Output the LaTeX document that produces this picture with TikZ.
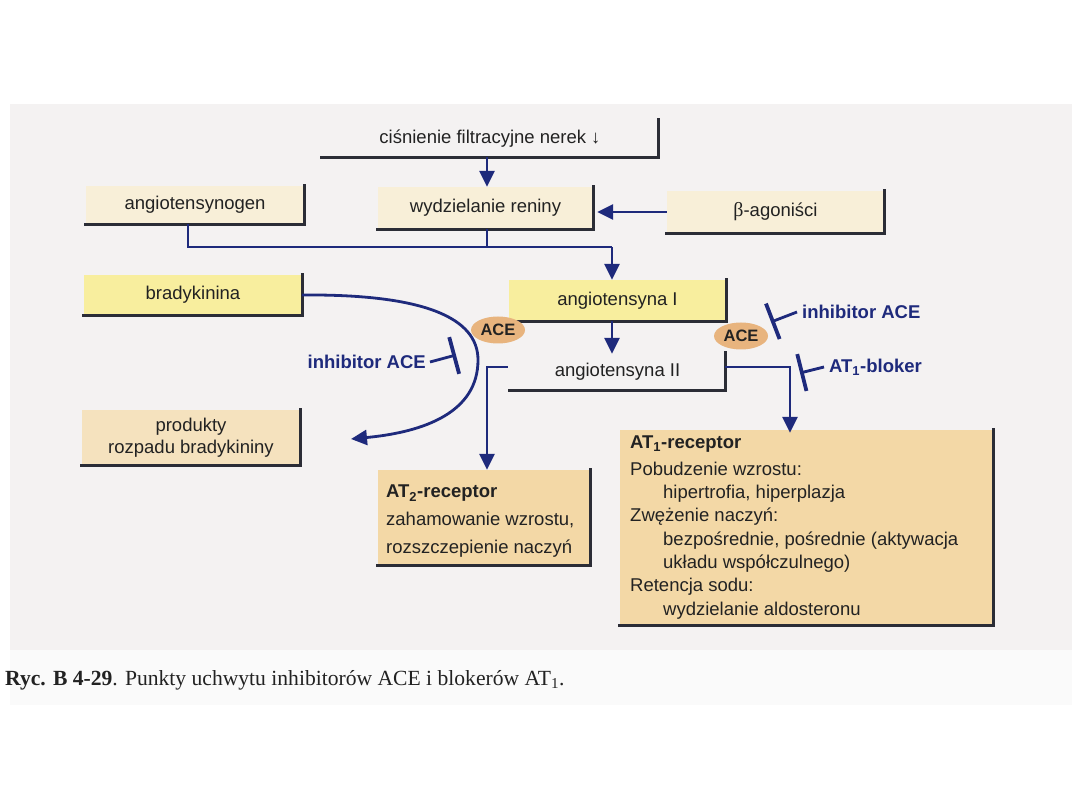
\documentclass[tikz,border=0pt]{standalone}
\usepackage{fontspec}
\setmainfont{Liberation Sans}
\newfontfamily\seriffont{Liberation Serif}
\usetikzlibrary{arrows.meta,shapes.geometric}
\definecolor{navy}{HTML}{1E2A7C}
\definecolor{cream}{HTML}{F8EFD8}
\definecolor{yell}{HTML}{F8EE9E}
\definecolor{tan}{HTML}{F3D8A6}
\definecolor{tanlight}{HTML}{F5E2BE}
\definecolor{bg}{HTML}{F4F2F2}
\definecolor{capbg}{HTML}{FAFAFA}
\definecolor{shade}{HTML}{2B2D36}
\definecolor{acefill}{HTML}{E8B47E}
\definecolor{txt}{HTML}{222222}
\tikzset{
  box/.style={inner sep=0pt, text=txt, font=\fontsize{18.5}{22}\selectfont, align=center},
  shadowline/.style={draw=shade, line width=3.2pt, line cap=rect},
  conn/.style={draw=navy, line width=2.8pt},
  arr/.style={conn, -{Triangle[width=15pt,length=16pt]}},
  inh/.style={conn, -{Bar[width=38pt,line width=3.8pt]}},
  ace/.style={ellipse, fill=acefill, minimum width=54pt, minimum height=27pt, inner sep=0pt,
    font=\bfseries\fontsize{16.5}{18}\selectfont, text=txt},
  lbl/.style={text=navy, font=\bfseries\fontsize{18.5}{22}\selectfont, inner sep=0pt},
  bodytext/.style={inner sep=0pt, text=txt, align=left, font=\fontsize{18.5}{23.3}\selectfont},
}
\newcommand{\ind}{\hspace*{33pt}}
\begin{document}
\begin{tikzpicture}[x=1pt,y=-1pt]
\useasboundingbox (0,0) rectangle (1080,810);
\fill[white] (0,0) rectangle (1080,810);
\fill[bg] (10,104) rectangle (1072,650);
\fill[capbg] (10,650) rectangle (1072,705);

% boxes
\node[box, minimum width=336pt, minimum height=37pt] (cis) at (490,138.5) {ciśnienie filtracyjne nerek ↓};
\node[box, fill=cream, minimum width=218pt, minimum height=38pt] (agen) at (195,205) {angiotensynogen};
\node[box, fill=cream, minimum width=215pt, minimum height=42pt] (ren) at (485.5,208) {wydzielanie reniny};
\node[box, fill=cream, minimum width=217pt, minimum height=42pt] (beta) at (775.5,212) {{\seriffont\fontsize{20}{22}\selectfont β}-agoniści};
\node[box, fill=yell, minimum width=218pt, minimum height=40pt] (brad) at (193,295) {bradykinina};
\node[box, fill=yell, minimum width=217pt, minimum height=41pt] (ang1) at (617.5,300.5) {angiotensyna I};
\node[box, minimum width=215pt, minimum height=37pt] (ang2) at (617.5,371.5) {angiotensyna II};
\node[box, fill=tanlight, minimum width=218pt, minimum height=55pt] (prod) at (191,437.5) {produkty\\rozpadu bradykininy};
\node[box, fill=tan, minimum width=212pt, minimum height=95pt] (at2) at (484,517.5) {};
\node[box, fill=tan, minimum width=373pt, minimum height=195pt] (at1) at (806.5,527.5) {};

\node[bodytext, anchor=north west] (at2t) at (386,485) {\textbf{AT\textsubscript{2}-receptor}\\[4.5pt]
zahamowanie wzrostu,\\[4.5pt]
rozszczepienie naczyń};
\node[bodytext, anchor=north west] (at1t) at (630,436) {\textbf{AT\textsubscript{1}-receptor}\\[3pt]
Pobudzenie wzrostu:\\
\ind hipertrofia, hiperplazja\\
Zwężenie naczyń:\\
\ind bezpośrednie, pośrednie (aktywacja\\
\ind układu współczulnego)\\
Retencja sodu:\\
\ind wydzielanie aldosteronu};

% shadows
\foreach \n in {cis,agen,ren,beta,brad,ang1,ang2,prod,at2,at1}{
  \draw[shadowline] (\n.south west) -- (\n.south east) -- (\n.north east);
}

% ACE ellipses
\node[ace] (aceL) at (498,330) {ACE};
\node[ace] (aceR) at (741,336) {ACE};

% connectors
\coordinate (cx) at (487,160);
\draw[arr] (cx |- cis.south) -- (cx |- ren.north);
\draw[arr] (beta.west) -- ([xshift=4pt]beta.west -| ren.east);
\coordinate (jL) at (188,247);
\coordinate (jR) at (612,247);
\draw[conn] (agen.south -| jL) -- (jL) -- (jR);
\draw[conn] (cx |- ren.south) -- (cx |- jL);
\draw[arr] (jR) -- (jR |- ang1.north);
\draw[arr] (ang1.south -| jR) -- ([yshift=-1pt]ang2.north -| jR);
\coordinate (a2L) at (487,367);
\coordinate (a2R) at (790,367);
\draw[arr] ([xshift=-2pt]ang2.west |- a2L) -- (a2L) -- (a2L |- at2.north);
\draw[arr] (ang2.east |- a2R) -- (a2R) -- ([yshift=-3pt]a2R |- at1.north);
\coordinate (bradEnd) at (351,439);
\draw[arr] (brad.east) .. controls (425,294) and (478,318) .. (478,360)
  .. controls (478,412) and (425,432) .. (bradEnd);

% inhibitors
\node[lbl, anchor=east] (inhL) at (426,362) {inhibitor ACE};
\coordinate (barL) at (456,355);
\draw[inh] ([xshift=4pt]inhL.east) -- (barL);
\node[lbl, anchor=west] (inhR) at (802,312) {inhibitor ACE};
\coordinate (barR) at (771,322);
\draw[inh] ([xshift=-5pt]inhR.west) -- (barR);
\node[lbl, anchor=west] (blk) at (829,367) {AT\textsubscript{1}-bloker};
\coordinate (barB) at (800,373);
\draw[inh] ([xshift=-5pt]blk.west) -- (barB);

% caption
\node[anchor=west, inner sep=0pt, text=txt, font=\seriffont\fontsize{21.6}{24}\selectfont] (cap) at (5,680)
  {\textbf{Ryc. B 4-29}. Punkty uchwytu inhibitorów ACE i blokerów AT\textsubscript{1}.};
\end{tikzpicture}
\end{document}
